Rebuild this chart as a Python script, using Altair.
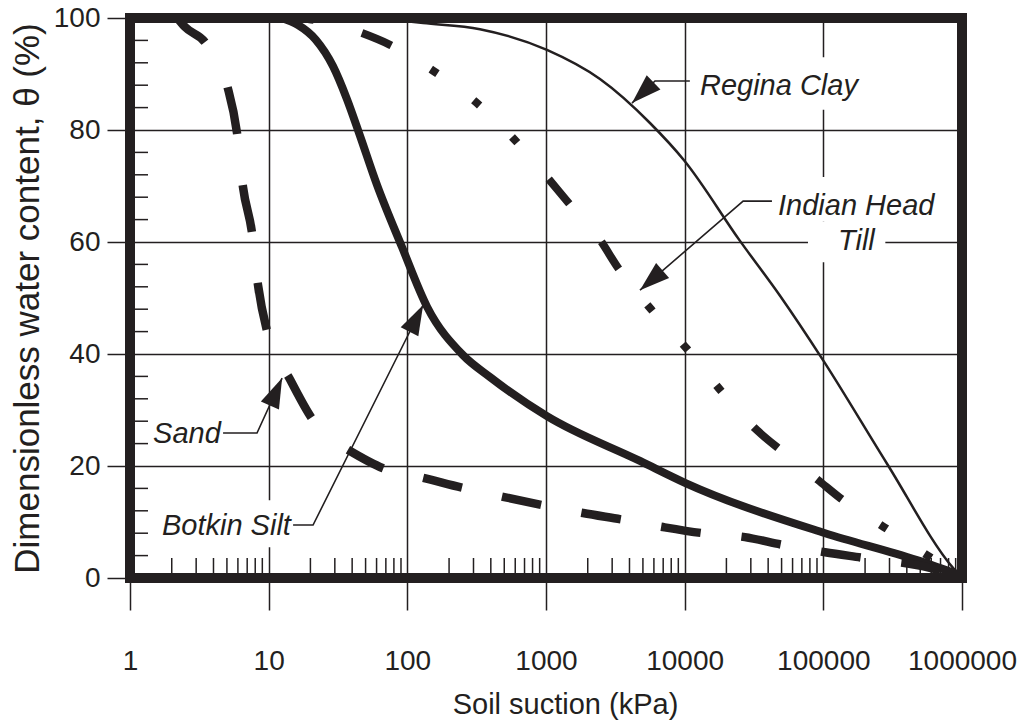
import altair as alt
import pandas as pd

INK = "#231f20"
SANS = "'Liberation Sans', Arial, Helvetica, sans-serif"

# ---- soil-water characteristic curves: suction (kPa) vs. dimensionless water content (%) ----
regina_s = [60, 130, 334, 1016, 2450, 5620, 9890, 25050, 48700, 99500, 288000, 861000, 1000000]
regina_t = [100, 99.1, 98.0, 94.3, 89.1, 81.25, 74.6, 60.2, 50.4, 38.9, 20.4, 1.8, 0]

botkin_s = [12.1, 16.3, 21.9, 29.1, 36.7, 44.8, 60.4, 91.5, 139, 252, 394, 1016, 4760, 10050,
            103000, 473000, 1000000]
botkin_t = [100, 98.75, 96.1, 91.4, 85.5, 79.5, 70.2, 59.1, 48.4, 39.8, 35.9, 28.9, 20.9, 17.0,
            8.0, 3.2, 0.4]

till_s = [16.8, 30.1, 47.1, 75, 151, 298, 569, 1017, 1441, 2450, 3303, 5716, 10400, 18600,
          33200, 51200, 91500, 138600, 273500, 558000, 1000000]
till_t = [100, 98.9, 97.3, 95.2, 90.7, 85.4, 78.75, 71.6, 67.1, 60.4, 55.4, 48.0, 40.9, 33.2,
          26.4, 22.5, 17.5, 13.9, 9.1, 4.1, 0]

# sand: steep drainage branch and flat residual tail (dashes run tighter on the tail)
sand_steep_s = [2.2, 2.49, 3.47, 5.01, 5.91, 6.53, 7.59, 8.38, 9.89, 14.3, 20.9, 37.3]
sand_steep_t = [100, 98.4, 95.7, 88.0, 79.5, 69.8, 61.6, 52.3, 43.4, 35.4, 28.2, 22.9]
sand_tail_s = [37.3, 66.8, 130, 252, 490, 951, 1849, 3590, 6980, 13550, 27200, 51200,
               103000, 193000, 588000, 1000000]
sand_tail_t = [22.9, 19.6, 17.9, 16.1, 14.5, 13.0, 11.6, 10.4, 9.1, 8.0, 7.3, 5.9, 4.6, 3.6, 1.8, 0]

# ---- axes ----
x_major = [1, 10, 100, 1000, 10000, 100000, 1000000]
x_minor_mult = [2, 3, 4, 5, 6, 7, 8, 9]
x_decades = [1, 10, 100, 1000, 10000, 100000]
y_major = [0, 20, 40, 60, 80, 100]
y_minor = [4, 8, 12, 16, 24, 28, 32, 36, 44, 48, 52, 56, 64, 68, 72, 76, 84, 88, 92, 96]

# ---- annotations ----
label_text = ["Regina Clay", "Indian Head", "Till", "Sand", "Botkin Silt"]
label_s = [12890, 47100, 127600, 1.466, 1.70]
label_t = [86.25, 64.8, 58.6, 24.1, 7.7]

# leader lines: label end -> elbow -> arrow tip
leader_id = ["regina"] * 3 + ["indian"] * 3 + ["sand"] * 3 + ["botkin"] * 3
leader_k = [0, 1, 2] * 4
leader_s = [10900, 6110, 4170, 42600, 26400, 4760, 4.69, 8.24, 12.5, 15.0, 20.9, 130]
leader_t = [88.75, 88.75, 84.8, 67.3, 67.3, 51.4, 25.9, 25.9, 35.7, 9.46, 9.46, 48.75]

tip_s = [4170, 4760, 12.5, 130]
tip_t = [84.8, 51.4, 35.7, 48.75]
tip_angle = [226, 229, 24, 27]

# white boxes behind the labels that interrupt the grid
box_s = [11500, 43000, 77500, 1.6]
box_s2 = [190000, 300000, 280000, 14]
box_t = [83.6, 63.6, 56.4, 5.5]
box_t2 = [93.0, 71.6, 63.6, 13.9]

W, H = 832, 560

x_scale = alt.Scale(type="log", domain=[1, 1000000], nice=False)
y_scale = alt.Scale(domain=[0, 100], nice=False)

x_axis = alt.Axis(
    values=x_major, format="d", grid=True, gridColor=INK, gridWidth=1.5, gridOpacity=1,
    domain=False, tickSize=32, tickWidth=1.5, tickColor=INK,
    labelFont=SANS, labelFontSize=28, labelColor=INK, labelPadding=37,
    labelFlush=False, labelOverlap=False,
    title="Soil suction (kPa)", titleFont=SANS, titleFontSize=29, titleFontWeight="normal",
    titleColor=INK, titleX=435, titleY=135, titleBaseline="alphabetic",
)
y_axis = alt.Axis(
    values=y_major, grid=True, gridColor=INK, gridWidth=1.5, gridOpacity=1,
    domain=False, tickSize=23, tickWidth=1.5, tickColor=INK,
    labelFont=SANS, labelFontSize=28, labelColor=INK, labelPadding=7,
    labelFlush=False, labelOverlap=False,
    title="Dimensionless water content, θ (%)", titleFont=SANS, titleFontSize=35,
    titleFontWeight="normal", titleColor=INK, titleAngle=270, titleX=-103, titleY=280,
    titleBaseline="middle",
)

X = alt.X("s:Q", scale=x_scale, axis=x_axis)
Y = alt.Y("t:Q", scale=y_scale, axis=y_axis)


def frame(s, t):
    return pd.DataFrame({"s": s, "t": t})


def curve(s, t, **style):
    return alt.Chart(frame(s, t)).mark_line(color=INK, interpolate="monotone", **style).encode(x=X, y=Y)


boxes = alt.Chart(pd.DataFrame({"s": box_s, "s2": box_s2, "t": box_t, "t2": box_t2})).mark_rect(
    color="white", opacity=1
).encode(x=X, x2="s2:Q", y=Y, y2="t2:Q")

minor_x = [m * d for d in x_decades for m in x_minor_mult]
ticks_bottom = alt.Chart(pd.DataFrame({"s": minor_x})).mark_rule(color=INK, strokeWidth=1.5).encode(
    x=X, y=alt.value(H - 20), y2=alt.value(H)
)
ticks_left = alt.Chart(pd.DataFrame({"t": y_minor})).mark_rule(color=INK, strokeWidth=1.5).encode(
    y=Y, x=alt.value(0), x2=alt.value(18)
)

regina = curve(regina_s, regina_t, strokeWidth=2.5)
botkin = curve(botkin_s, botkin_t, strokeWidth=8)
till = curve(till_s, till_t, strokeWidth=8,
             strokeDash=[32, 50, 32, 46, 8, 45, 8, 45, 8, 48], strokeDashOffset=18)
sand_steep = curve(sand_steep_s, sand_steep_t, strokeWidth=8.5, strokeDash=[48, 51], strokeDashOffset=11)
sand_tail = curve(sand_tail_s, sand_tail_t, strokeWidth=8.5, strokeDash=[40, 41])

leaders = alt.Chart(pd.DataFrame({"id": leader_id, "k": leader_k, "s": leader_s, "t": leader_t})).mark_line(
    color=INK, strokeWidth=1.6
).encode(x=X, y=Y, detail="id:N", order="k:Q")

heads = alt.Chart(pd.DataFrame({"s": tip_s, "t": tip_t, "ang": tip_angle})).mark_point(
    shape="M0,0L0.66,2L-0.66,2Z", filled=True, size=900, color=INK, opacity=1, strokeWidth=0
).encode(x=X, y=Y, angle=alt.Angle("ang:Q", scale=None))

labels = alt.Chart(pd.DataFrame({"text": label_text, "s": label_s, "t": label_t})).mark_text(
    align="left", baseline="alphabetic", font=SANS, fontSize=29, fontStyle="italic", color=INK
).encode(x=X, y=Y, text="text:N")

border = alt.Chart(pd.DataFrame({"s": [1]})).mark_rect(
    filled=False, stroke=INK, strokeWidth=10
).encode(x=alt.value(0), x2=alt.value(W), y=alt.value(0), y2=alt.value(H))

chart = alt.layer(
    boxes, ticks_bottom, ticks_left, regina, botkin, till, sand_steep, sand_tail,
    leaders, heads, labels, border
).properties(
    width=W, height=H,
    autosize=alt.AutoSizeParams(type="none"),
    padding={"left": 130, "top": 18, "right": 65, "bottom": 147},
    background="white",
).configure_view(strokeWidth=0)

chart.save("out.html", embed_options={"renderer": "svg", "actions": False})
